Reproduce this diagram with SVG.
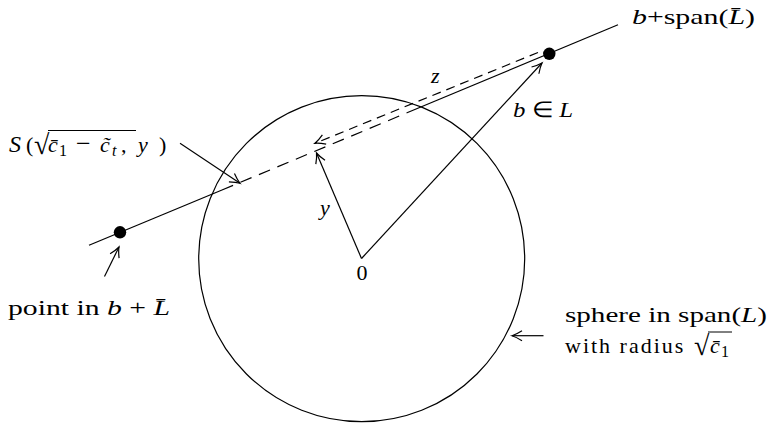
<svg xmlns="http://www.w3.org/2000/svg" width="771" height="425" viewBox="0 0 771 425">
<style>
.t{font-family:"Liberation Serif","Times New Roman",serif;font-size:22px;fill:#000}
.i{font-style:italic}
.s{font-size:16px}
.ln{stroke:#000;stroke-width:1.2;fill:none}
.dz{stroke-dasharray:9 6}
.dm{stroke-dasharray:12 8}
</style>
<defs>
<marker id="ah" markerUnits="userSpaceOnUse" markerWidth="16" markerHeight="16" viewBox="-13 -8 16 16" refX="0" refY="0" orient="auto" overflow="visible">
<path d="M-10,-5 Q-4,-1.2 0,0 Q-4,1.2 -10,5" fill="none" stroke="#000" stroke-width="1.2" stroke-dasharray="none"/>
</marker>
</defs>
<rect width="771" height="425" fill="#fff"/>

<g id="sphere">
<circle class="ln" cx="361.7" cy="258.7" r="163"/>
</g>

<g id="connectors">
<line class="ln" x1="89" y1="245.3" x2="222" y2="190"/>
<line class="ln dm" x1="222" y1="190" x2="407" y2="112.8"/>
<line class="ln" x1="407" y1="112.8" x2="618" y2="24.8"/>
<line class="ln dz" x1="538" y1="52.5" x2="315" y2="143.3" marker-end="url(#ah)"/>
<line class="ln" x1="361.5" y1="258.5" x2="542" y2="63" marker-end="url(#ah)"/>
<line class="ln" x1="361.5" y1="258.5" x2="316.5" y2="153" marker-end="url(#ah)"/>
<line class="ln" x1="180" y1="143.3" x2="240" y2="183.3" marker-end="url(#ah)"/>
<line class="ln" x1="104.5" y1="276.5" x2="119" y2="247" marker-end="url(#ah)"/>
<line class="ln" x1="543.5" y1="335.7" x2="512" y2="335.7" marker-end="url(#ah)"/>
</g>

<g id="point-b">
<circle cx="549.3" cy="53.8" r="6.2" fill="#000"/>
</g>
<g id="point-left">
<circle cx="120" cy="232.3" r="6.2" fill="#000"/>
</g>

<g id="label-line">
<text class="t" x="632" y="24" textLength="123" lengthAdjust="spacingAndGlyphs"><tspan class="i">b</tspan>+span(<tspan class="i">L̄</tspan>)</text>
</g>
<g id="label-z">
<text class="t i" x="431" y="83">z</text>
</g>
<g id="label-b">
<text class="t" x="513" y="117" textLength="60" lengthAdjust="spacingAndGlyphs"><tspan class="i">b</tspan> ∈ <tspan class="i">L</tspan></text>
</g>
<g id="label-S">
<text class="t"><tspan class="i" x="9" y="152" font-size="24">S</tspan><tspan x="26" y="152">(</tspan><tspan x="34" y="154" font-size="28">√</tspan><tspan class="i" x="48" y="152">c̄</tspan><tspan class="s" x="59" y="156">1</tspan><tspan x="76" y="152" font-size="26">−</tspan><tspan class="i" x="100" y="152">c̃</tspan><tspan class="i s" x="112" y="156">t</tspan><tspan x="121" y="152">,</tspan><tspan class="i" x="138" y="152">y</tspan><tspan x="159" y="152">)</tspan></text>
<line x1="48" y1="130.5" x2="136" y2="130.5" stroke="#000" stroke-width="1"/>
</g>
<g id="label-y">
<text class="t i" x="320" y="215">y</text>
</g>
<g id="label-0">
<text class="t" x="362" y="280" text-anchor="middle">0</text>
</g>
<g id="label-point">
<text class="t" x="8" y="315" textLength="162" lengthAdjust="spacingAndGlyphs">point in <tspan class="i">b</tspan> + <tspan class="i">L̄</tspan></text>
</g>
<g id="label-sphere">
<text class="t" x="565" y="322" textLength="202" lengthAdjust="spacingAndGlyphs">sphere in span(<tspan class="i">L</tspan>)</text>
<text class="t"><tspan x="565" y="353" letter-spacing="2">with radius</tspan><tspan x="694" y="355" font-size="28">√</tspan><tspan class="i" x="710" y="353">c̄</tspan><tspan class="s" x="721" y="357">1</tspan></text>
<line x1="708" y1="332" x2="732" y2="332" stroke="#000" stroke-width="1"/>
</g>
</svg>
